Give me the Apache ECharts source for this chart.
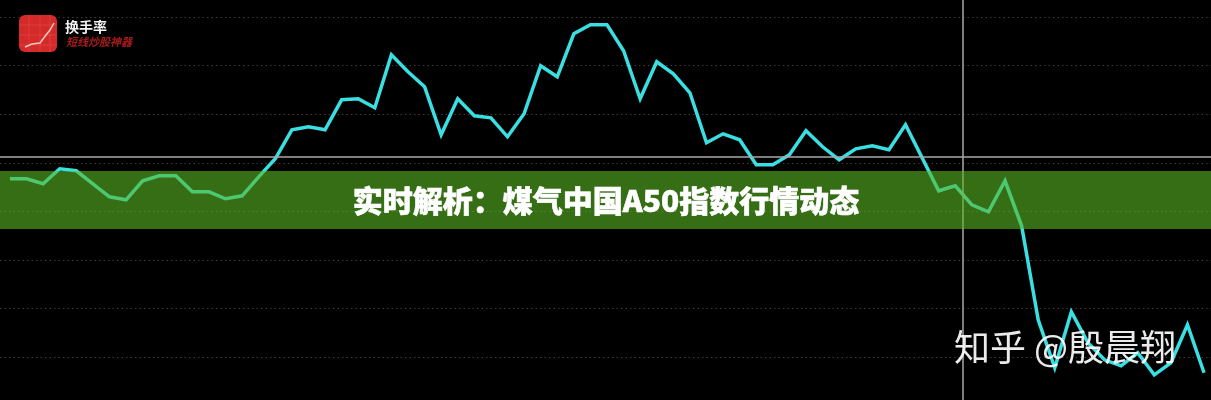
<!DOCTYPE html>
<html><head><meta charset="utf-8">
<style>html,body{margin:0;padding:0;background:#000}#c{width:1211px;height:400px;filter:blur(0.4px)}</style>
<script src="https://cdn.jsdelivr.net/npm/echarts@6/dist/echarts.min.js"></script>
</head><body><div id="c"></div>
<script>
const lineValues=[227,227,222,237,235,222,209,206,225,230,230,214,214,207,210,229,247,276,279,276,306,307,298,351,334,319,271,307,290,288,269,292,340,329,372,381,381,355,307,344,332,313,263,272,266,241,241,251,275,259,246,257,260,256,281,248,215,220,201,194,225,180,86,38,94,63,46,40,53,31,43,81,33];
const crossValue=249;
const crossIndex=57.45;
const titleText='实时解析：煤气中国A50指数行情动态';
const watermarkText='知乎 @殷晨翔';
const logoTitle='换手率';
const logoSub='短线炒股神器';
const chart=echarts.init(document.getElementById('c'),null,{renderer:'canvas'});
const cjk='"Noto Sans CJK SC","Noto Sans",sans-serif';
const logoGrid=[[19,25,57,25],[19,35,57,35],[19,45,57,45],[29,15,29,52],[40,15,40,52],[50,15,50,52]].map(a=>(
  {type:'line',z:102,shape:{x1:a[0],y1:a[1],x2:a[2],y2:a[3]},style:{stroke:'rgba(255,120,120,0.35)',lineWidth:0.7}}));
chart.setOption({
  animation:false,
  backgroundColor:'#000',
  grid:{left:0,right:0,top:-31.6,bottom:-5.8,outerBoundsMode:'none'},
  xAxis:{type:'value',min:-0.6,max:72.42,show:false,splitLine:{show:false}},
  yAxis:{type:'value',min:0,max:437.4,interval:48.6,
    axisLine:{show:false},axisTick:{show:false},axisLabel:{show:false},
    splitLine:{show:true,lineStyle:{color:'#443a3a',type:[1.5,3],width:1}}},
  series:[{type:'line',data:lineValues.map((v,i)=>[i,v]),showSymbol:false,symbol:'none',smooth:false,
    lineStyle:{color:'#3adfe2',width:3.5,join:'miter'},
    markLine:{silent:true,symbol:'none',label:{show:false},
      lineStyle:{color:'#a8a8a8',width:1.5,type:'solid'},
      data:[{yAxis:crossValue},{xAxis:crossIndex}]}}],
  graphic:[
    {type:'rect',z:100,shape:{x:0,y:171,width:1211,height:58},style:{fill:'rgba(90,183,37,0.6)'}},
    {type:'text',z:101,x:606,y:201,style:{text:titleText,fill:'#fff',stroke:'#fff',lineWidth:0.6,font:'900 30px '+cjk,align:'center',verticalAlign:'middle'}},
    {type:'text',z:101,x:954,y:347,style:{text:watermarkText,fill:'rgba(255,255,255,0.92)',font:'400 36px '+cjk,align:'left',verticalAlign:'middle'}},
    {type:'rect',z:101,shape:{x:19,y:15,width:38,height:37,r:6},style:{fill:'#d42a2a'}},
    ...logoGrid,
    {type:'polyline',z:103,shape:{points:[[25,47],[32,44],[40,43],[46,35],[50,30],[54,23]]},style:{stroke:'#f7c9b8',lineWidth:1.5,fill:null}},
    {type:'text',z:101,x:65,y:27,style:{text:logoTitle,fill:'#f2f2f2',font:'700 14px '+cjk,align:'left',verticalAlign:'middle'}},
    {type:'text',z:101,x:66,y:42,style:{text:logoSub,fill:'#a81c1c',font:'italic 700 11px '+cjk,align:'left',verticalAlign:'middle'}}
  ]
});
</script></body></html>
